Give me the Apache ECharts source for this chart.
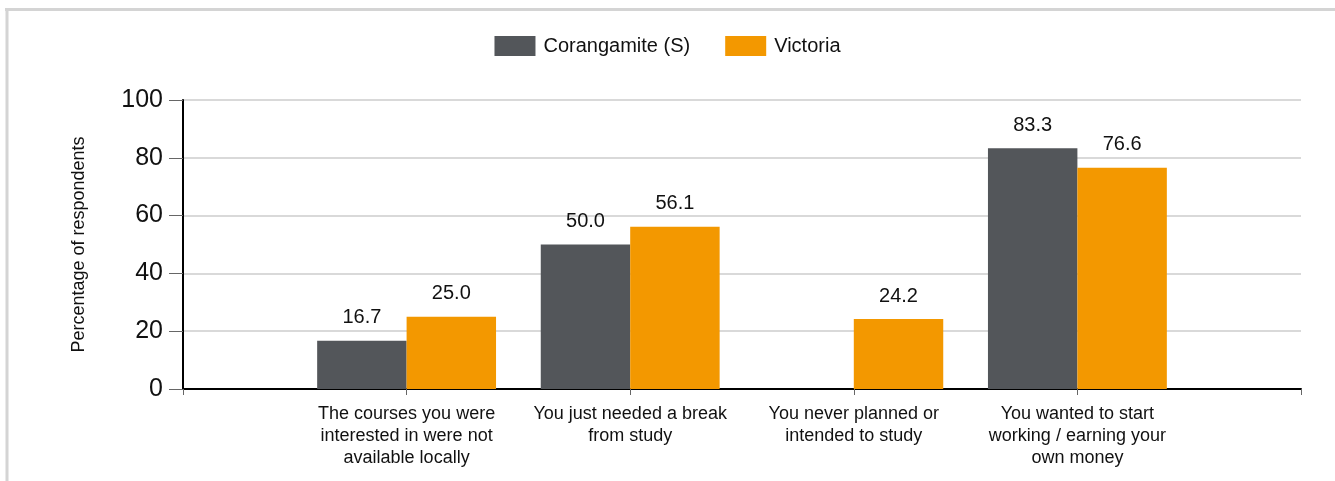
<!DOCTYPE html>
<html>
<head>
<meta charset="utf-8">
<script src="https://cdn.jsdelivr.net/npm/echarts@6/dist/echarts.min.js"></script>
<style>
html,body{margin:0;padding:0;background:#fff;}
#chart{width:1335px;height:481px;}
</style>
</head>
<body>
<div id="chart"></div>
<script>
var categories = [
  'The courses you were\ninterested in were not\navailable locally',
  'You just needed a break\nfrom study',
  'You never planned or\nintended to study',
  'You wanted to start\nworking / earning your\nown money'
];
var seriesNames = ['Corangamite (S)', 'Victoria'];
var corangamite = [16.7, 50.0, 0, 83.3];
var victoria = [25.0, 56.1, 24.2, 76.6];
var yTicks = [0, 20, 40, 60, 80, 100];

var chart = echarts.init(document.getElementById('chart'));
var font = 'Liberation Sans, Arial, sans-serif';
function pad(a){ return [null].concat(a).concat([null]); }
var labelCfg = {
  show: true, position: 'top', distance: 13,
  fontFamily: font, fontSize: 20, color: '#111',
  formatter: function(p){ return (p.value === null || p.value === 0) ? '' : p.value.toFixed(1); }
};
chart.setOption({
  animation: false,
  textStyle: {fontFamily: font},
  graphic: [
    {type: 'line', shape: {x1: 5, y1: 9.5, x2: 1335, y2: 9.5}, style: {stroke: '#d4d4d4', lineWidth: 3}},
    {type: 'line', shape: {x1: 7, y1: 8, x2: 7, y2: 481}, style: {stroke: '#d4d4d4', lineWidth: 3}}
  ],
  legend: {
    data: seriesNames,
    top: 31, left: 'center',
    itemWidth: 41, itemHeight: 20, itemGap: 35,
    icon: 'rect',
    textStyle: {fontFamily: font, fontSize: 20, color: '#111', padding: [0, 0, 0, 3]}
  },
  grid: {left: 183, right: 34, top: 100, bottom: 92, containLabel: false},
  xAxis: {
    type: 'category',
    data: [''].concat(categories).concat(['']),
    boundaryGap: false,
    axisLine: {lineStyle: {color: '#000', width: 2}},
    axisTick: {show: true, length: 6, lineStyle: {color: '#666', width: 1}},
    axisLabel: {interval: 0, fontFamily: font, fontSize: 18, lineHeight: 22, color: '#111', margin: 14},
    splitLine: {show: false}
  },
  yAxis: {
    type: 'value',
    min: yTicks[0], max: yTicks[yTicks.length - 1], interval: 20,
    name: 'Percentage of respondents',
    nameLocation: 'middle', nameRotate: 90, nameGap: 95,
    nameTextStyle: {fontFamily: font, fontSize: 18, color: '#111'},
    axisLine: {show: true, lineStyle: {color: '#000', width: 2}},
    axisTick: {show: true, length: 14, lineStyle: {color: '#666', width: 1}},
    axisLabel: {fontFamily: font, fontSize: 25, color: '#111', margin: 20},
    splitLine: {show: true, lineStyle: {color: '#d9d9d9', width: 2}}
  },
  series: [
    {name: seriesNames[0], type: 'bar', data: pad(corangamite), barGap: '0%', barCategoryGap: '20%',
     itemStyle: {color: '#53565a'}, label: labelCfg},
    {name: seriesNames[1], type: 'bar', data: pad(victoria), barGap: '0%', barCategoryGap: '20%',
     itemStyle: {color: '#f39800'}, label: labelCfg}
  ]
});
</script>
</body>
</html>
